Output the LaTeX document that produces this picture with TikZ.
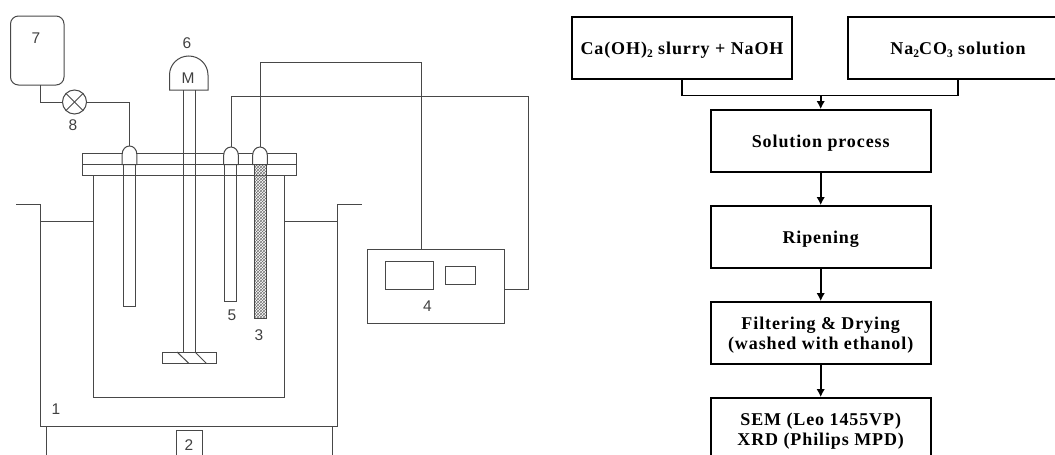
\documentclass[tikz,border=0pt]{standalone}
\usepackage{fontspec}
\setmainfont[LetterSpace=5]{Liberation Serif}
\newfontfamily\labelfont{Liberation Sans}
\usepackage{xcolor}
\usetikzlibrary{arrows.meta, positioning, calc, patterns}
\definecolor{wirecol}{HTML}{484848}
\newcommand{\chemsub}[1]{\raisebox{-3.5pt}{\fontsize{11.5}{12}\selectfont #1}}
\newcommand{\stepstrut}{\rule{0pt}{19pt}}
\tikzset{
  stepbox/.style={draw=black, line width=1.8pt, align=center, minimum height=62pt, minimum width=220pt, inner sep=0pt, font=\fontsize{18}{20.5}\selectfont\bfseries, execute at begin node={\leavevmode\rule[-6pt]{0pt}{24.6pt}}},
  arrow/.style={-{Latex[length=8pt,width=8.5pt]}, line width=1.8pt},
  merge/.style={line width=1.8pt},
  wire/.style={draw=wirecol, line width=1pt},
  wall/.style={draw=wirecol, line width=1pt},
  tag/.style={font=\fontsize{15.5}{17}\selectfont\labelfont, text=black!75, inner sep=0pt},
  electrode/.style={wall, pattern=crosshatch, pattern color=black!55}
}

\begin{document}
\begin{tikzpicture}[x=1pt, y=-1pt, node distance=32.2pt and 54.2pt]
    \clip (0,0) rectangle (1055,455);

    \draw[wall, rounded corners=8pt] (10.5,16) rectangle (64,85);
    \node[tag] (n7) at (36,38) {7};
    \coordinate (tankout) at (40,85);
    \node[wall, circle, minimum size=24pt, inner sep=0pt] (valve) at (74.5,102) {};
    \draw[wall] (valve.north west) -- (valve.south east);
    \draw[wall] (valve.north east) -- (valve.south west);
    \node[tag] (n8) at (73,125) {8};

    \draw[wall] (169.5,90) -- (169.5,75) arc[start angle=180, end angle=0, x radius=19.25pt, y radius=19pt] -- (208,90) -- cycle;
    \node[tag] (nM) at (188,78) {M};
    \node[tag] (n6) at (187,43) {6};

    \draw[wall] (82,153.5) rectangle (296,175.5);
    \draw[wall] (82,164.5) -- (296,164.5);

    \draw[wall] (93.5,175.5) -- (93.5,397.5) -- (284,397.5) -- (284,175.5);
    \draw[wall] (16,204) -- (40,204) -- (40,426) -- (337.7,426) -- (337.7,204) -- (361.7,204);
    \draw[wall] (40,221) -- (93.5,221);
    \draw[wall] (284,221) -- (337.7,221);
    \draw[wall] (46,426) -- (46,455);
    \draw[wall] (332,426) -- (332,455);
    \draw[wall] (176,430) rectangle (202,460);
    \node[tag] (n2) at (189,445) {2};
    \node[tag] (n1) at (56,409) {1};

    \draw[wall] (183,90) -- (183,352);
    \draw[wall] (195,90) -- (195,352);
    \draw[wall] (162,352) rectangle (216,363.5);
    \draw[wall] (177,352) -- (189,363.5);
    \draw[wall] (195,352) -- (206.5,363.5);

    \draw[wall] (123.5,164.5) rectangle (135.5,306.7);
    \draw[wall] (224.5,164.5) rectangle (236.5,301);
    \draw[electrode] (254.5,164.5) rectangle (266.5,318);
    \node[tag] (n5) at (232,315) {5};
    \node[tag] (n3) at (259,335) {3};

    \foreach \capx/\captop in {129.5/146, 231/147, 260/147}
      \draw[wall, fill=white] (\capx-7.3,164.5) -- (\capx-7.3,\captop+8) arc[start angle=180, end angle=0, x radius=7.3pt, y radius=8pt] -- (\capx+7.3,164.5) -- cycle;
    \coordinate (capa) at (129.5,146);
    \coordinate (capb) at (231,147);
    \coordinate (capc) at (260,147);

    \node[wall, minimum width=137.4pt, minimum height=74.4pt, inner sep=0pt] (meter) at (436,286.5) {};
    \draw[wall] (385,261) rectangle (433.5,289.7);
    \draw[wall] (445,266.7) rectangle (475,284);
    \node[tag] (n4) at (427.5,306) {4};
    \coordinate (meterin) at (421,249.3);
    \coordinate (meterout) at (504.7,289.5);

    \draw[wire] (tankout) |- (valve.west);
    \draw[wire] (valve.east) -| (capa);
    \draw[wire] (capc) |- (421,62) -- (meterin);
    \draw[wire] (capb) |- (528,96) |- (meterout);

    \node[stepbox] (slurry) at (682,48) {Ca(OH)\chemsub{2} slurry + NaOH};
    \node[stepbox, right=of slurry] (carbonate) {Na\chemsub{2}CO\chemsub{3} solution};
    \node[stepbox] (solution) at (820.7,141) {Solution process};
    \node[stepbox, below=of solution] (ripening) {Ripening};
    \node[stepbox, below=of ripening] (filtering) {\stepstrut Filtering \& Drying\\(washed with ethanol)};
    \node[stepbox, below=of filtering] (analysis) {\stepstrut SEM (Leo 1455VP)\\XRD (Philips MPD)};

    \coordinate (junction) at ($(slurry.south)!0.5!(carbonate.south)+(0,15.5)$);
    \draw[merge] (slurry.south) |- (junction) -| (carbonate.south);
    \draw[arrow] (junction -| solution.north) -- (solution.north);
    \draw[arrow] (solution) -- (ripening);
    \draw[arrow] (ripening) -- (filtering);
    \draw[arrow] (filtering) -- (analysis);
\end{tikzpicture}
\end{document}
